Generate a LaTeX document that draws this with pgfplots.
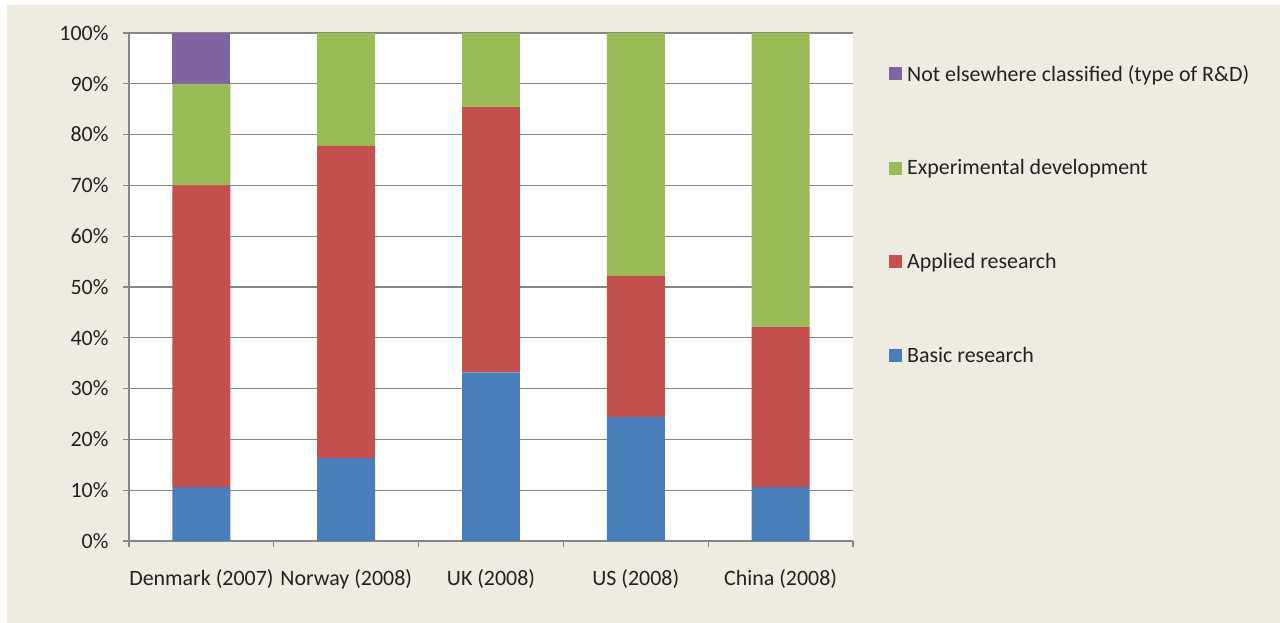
\documentclass[border=0pt]{standalone}
\usepackage{pgfplots}
\pgfplotsset{compat=1.18}
\usepackage{fontspec}
\setmainfont{Carlito}
\definecolor{bg}{HTML}{EEEBE0}
\definecolor{axisgray}{HTML}{868686}
\definecolor{textcol}{HTML}{222222}
\definecolor{cblue}{HTML}{4A7EBB}
\definecolor{cred}{HTML}{C4504E}
\definecolor{cgreen}{HTML}{9BBB59}
\definecolor{cpurple}{HTML}{7F64A2}
\pgfplotsset{sq/.style={legend image code/.code={\fill[##1] (0bp,-6.5bp) rectangle (13bp,6.5bp); \path (16bp,0bp);}}}
\begin{document}
\begin{tikzpicture}
\useasboundingbox (0bp,0bp) rectangle (1280bp,623bp);
\fill[white] (0bp,0bp) rectangle (1280bp,623bp);
\fill[bg] (7bp,0bp) rectangle (1280bp,618bp);
\begin{axis}[
  at={(129bp,82bp)}, anchor=south west,
  width=724bp, height=508bp, scale only axis,
  ybar stacked, bar width=0.4,
  xmin=-0.5, xmax=4.5, ymin=0, ymax=100,
  xtick={0,...,4},
  xticklabels={Denmark (2007),Norway (2008),UK (2008),US (2008),China (2008)},
  minor xtick={-0.5,0.5,...,4.5},
  ytick={0,10,...,100},
  /pgf/number format/assume math mode=true,
  yticklabel={\pgfmathprintnumber{\tick}\%},
  tick align=outside,
  major tick length=6bp, minor tick length=6bp,
  xtick style={draw=none},
  minor x tick style={draw=axisgray, line width=1.2bp},
  ytick style={draw=axisgray, line width=1.2bp},
  ymajorgrids, grid style={axisgray, line width=1.2bp},
  axis x line*=bottom, axis y line*=left,
  axis line style={axisgray, line width=1.2bp},
  axis background/.style={fill=white},
  tick label style={font=\fontsize{22}{26}\selectfont, text=textcol},
  xticklabel style={yshift=-19bp},
  yticklabel style={xshift=-11bp},
  reverse legend,
  legend style={at={(axis description cs:1,1)}, anchor=north west,
    xshift=36bp, yshift=-30bp, draw=none, fill=none,
    font=\fontsize{22}{26}\selectfont, text=textcol,
    row sep=73bp, inner sep=0pt, nodes={inner sep=2bp}},
  legend cell align=left,
]
\addplot[fill=cblue, draw=none, sq] coordinates {(0,10.6) (1,16.3) (2,33.2) (3,24.4) (4,10.6)};
\addplot[fill=cred, draw=none, sq] coordinates {(0,59.4) (1,61.5) (2,52.2) (3,27.8) (4,31.6)};
\addplot[fill=cgreen, draw=none, sq] coordinates {(0,20.0) (1,22.2) (2,14.6) (3,47.8) (4,57.8)};
\addplot[fill=cpurple, draw=none, sq] coordinates {(0,10.0)};
\legend{Basic research, Applied research, Experimental development, Not elsewhere classified (type of R\&D)}
\end{axis}
\end{tikzpicture}
\end{document}
